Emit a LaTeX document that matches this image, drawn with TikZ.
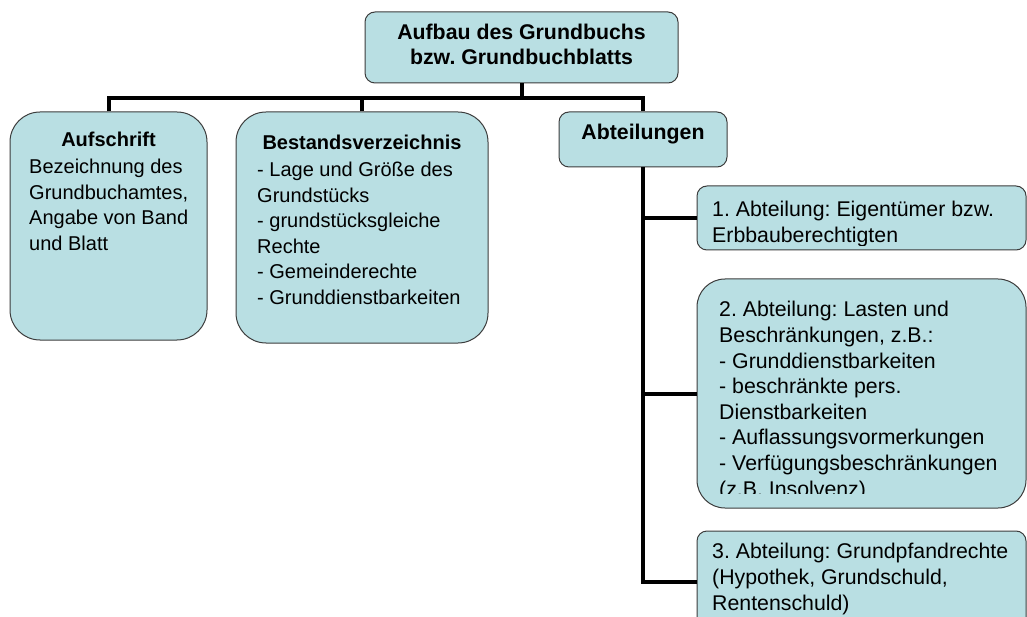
\documentclass[tikz,border=0pt]{standalone}
\usepackage{fontspec}
\setmainfont{Liberation Sans}
\definecolor{boxfill}{RGB}{185,223,227}
\definecolor{boxline}{RGB}{60,60,60}

\begin{document}
\frenchspacing
\begin{tikzpicture}[x=1pt,y=-1pt,
    box/.style={draw=boxline, line width=1pt, fill=boxfill, rounded corners=#1, inner sep=0pt},
    box/.default=10pt,
    conn/.style={line width=4pt},
    % anchor is the baseline of the last line
    txt/.style={font=\fontsize{20}{25.5}\selectfont, align=left, anchor=base west, inner sep=0pt},
    bigtxt/.style={txt, font=\fontsize{21.3}{26}\selectfont},
    head/.style={font=\fontsize{20}{25.5}\selectfont\bfseries, align=center, anchor=base, inner sep=0pt},
    bighead/.style={head, font=\fontsize{21.3}{25}\selectfont\bfseries}]
    \useasboundingbox (0,0) rectangle (1027,617);
    % boxes
    \node[box, minimum width=313pt, minimum height=71pt] (top) at (521.5,47.5) {};
    \node[box=30pt, minimum width=197pt, minimum height=228pt] (aufschrift) at (108.5,226) {};
    \node[box=30pt, minimum width=252pt, minimum height=231pt] (bestand) at (362,227.5) {};
    \node[box, minimum width=168pt, minimum height=55pt] (abteil) at (643,139.5) {};
    \node[box, minimum width=329pt, minimum height=64pt] (abt1) at (861.5,218) {};
    \node[box=28pt, minimum width=329pt, minimum height=229pt] (abt2) at (861.5,393.5) {};
    \node[box, minimum width=329pt, minimum height=131pt] (abt3) at (861.5,596.5) {};
    % connectors
    \coordinate (bar) at (521.5,98);
    \coordinate (abt3in) at (697,582);
    \draw[conn] (top.south) -- (bar);
    \draw[conn] (aufschrift.north) |- (bar) -| (abteil.north);
    \draw[conn] (bestand.north) -- (bestand.north |- bar);
    \draw[conn] (abteil.south) |- (abt3in);
    \draw[conn] (abteil.south |- abt1.west) -- (abt1.west);
    \draw[conn] (abteil.south |- abt2.west) -- (abt2.west);
    % texts
    \node[bighead] (toptxt) at (521.5,65) {Aufbau des Grundbuchs\\bzw. Grundbuchblatts};
    \node[head] (aufhead) at (108.5,147) {Aufschrift};
    \node[txt] (auftxt) at (29,250.5) {Bezeichnung des\\Grundbuchamtes,\\Angabe von Band\\und Blatt};
    \node[head] (besthead) at (362,150) {Bestandsverzeichnis};
    \node[txt] (besttxt) at (257,304.5) {- Lage und Größe des\\Grundstücks\\- grundstücksgleiche\\Rechte\\- Gemeinderechte\\- Grunddienstbarkeiten};
    \node[bighead] (abthead) at (643,140) {Abteilungen};
    \begin{scope}
      \clip (697,186) rectangle (1026,246);
      \node[bigtxt] (abt1txt) at (712,243) {1. Abteilung: Eigentümer bzw.\\Erbbauberechtigten};
    \end{scope}
    \begin{scope}
      \clip (697,279) rectangle (1026,493);
      \node[bigtxt, font=\fontsize{21.3}{25.6}\selectfont] (abt2txt) at (719,496) {2. Abteilung: Lasten und\\Beschränkungen, z.B.:\\- Grunddienstbarkeiten\\- beschränkte pers.\\Dienstbarkeiten\\- Auflassungsvormerkungen\\- Verfügungsbeschränkungen\\(z.B. Insolvenz)};
    \end{scope}
    \begin{scope}
      \clip (697,532) rectangle (1026,617);
      \node[bigtxt] (abt3txt) at (712,610) {3. Abteilung: Grundpfandrechte\\(Hypothek, Grundschuld,\\Rentenschuld)};
    \end{scope}
\end{tikzpicture}
\end{document}
